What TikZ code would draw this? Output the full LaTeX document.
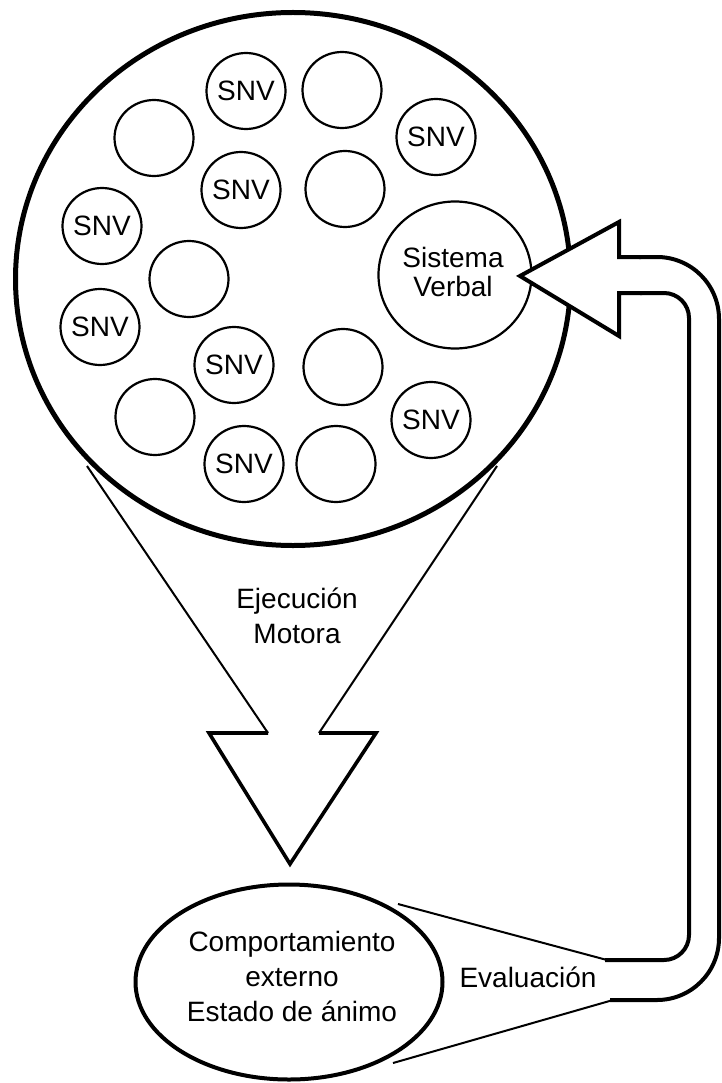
\documentclass[tikz,border=0pt]{standalone}
\usepackage{fontspec}
\setmainfont{Liberation Sans}
\usetikzlibrary{shapes.geometric}
\begin{document}
\begin{tikzpicture}[x=1pt,y=-1pt,
  small/.style={ellipse,draw,line width=2.2pt,minimum width=79pt,minimum height=76pt,inner sep=0pt},
  snv/.style={small,label={[font=\fontsize{28}{29}\selectfont,inner sep=0pt]center:SNV}},
  bigc/.style={ellipse,draw,line width=5pt,minimum width=555pt,minimum height=533pt,inner sep=0pt},
  lbl/.style={align=center,font=\fontsize{28}{35}\selectfont,inner sep=0pt},
  thinline/.style={line width=2pt},
  headline/.style={line width=3.6pt,line join=miter},
  fbline/.style={line width=4pt,line join=miter},
]
\useasboundingbox (0,0) rectangle (722,1083);

% big circle and inner circles
\node[bigc] (brain) at (293,279) {};
\node[snv]   (c1)  at (246,91)  {};
\node[small] (c2)  at (342,90)  {};
\node[snv]   (c3)  at (436,137) {};
\node[small] (c4)  at (154,138) {};
\node[snv]   (c5)  at (241,190) {};
\node[small] (c6)  at (345,189) {};
\node[snv]   (c7)  at (102,226) {};
\node[small] (c8)  at (189,279) {};
\node[small,minimum width=153pt,minimum height=147pt] (sv) at (455,275) {};
\node[lbl,font=\fontsize{28}{29}\selectfont] (svt) at (453,272) {Sistema\\Verbal};
\node[snv]   (c10) at (100,327) {};
\node[snv]   (c11) at (234,365) {};
\node[small] (c12) at (343,367) {};
\node[small] (c13) at (155,417) {};
\node[snv]   (c14) at (431,420) {};
\node[snv]   (c15) at (244,464) {};
\node[small] (c16) at (336,464) {};

% downward funnel arrow
\draw[thinline] (87,466) -- (268,733);
\draw[thinline] (497,466) -- (319,733);
\draw[headline] (268,733) -- (209,733) -- (290,864) -- (376,733) -- (319,733);
\node[lbl] (ejec) at (297,616) {Ejecución\\Motora};

% bottom ellipse
\node[ellipse,draw,line width=4pt,minimum width=307pt,minimum height=195pt,inner sep=0pt] (beh) at (289,982) {};
\node[lbl] (beht) at (292,976) {Comportamiento\\externo\\Estado de ánimo};

% feedback arrow
\fill[white] (619,222) -- (520,276) -- (619,336) -- cycle;
\draw[thinline] (398,904) -- (607,960);
\draw[fbline,rounded corners=25pt] (605,960) -- (689,960) -- (689,293) -- (640,293);
\draw[fbline] (642,293) -- (619,293) -- (619,336) -- (520,276) -- (619,222) -- (619,257) -- (641,257);
\draw[fbline,rounded corners=62pt] (639,257) -- (719,257) -- (719,1000) -- (610,1000);
\draw[thinline] (613,1000) -- (393,1063);
\node[lbl] (eval) at (528,977) {Evaluación};
\end{tikzpicture}
\end{document}
